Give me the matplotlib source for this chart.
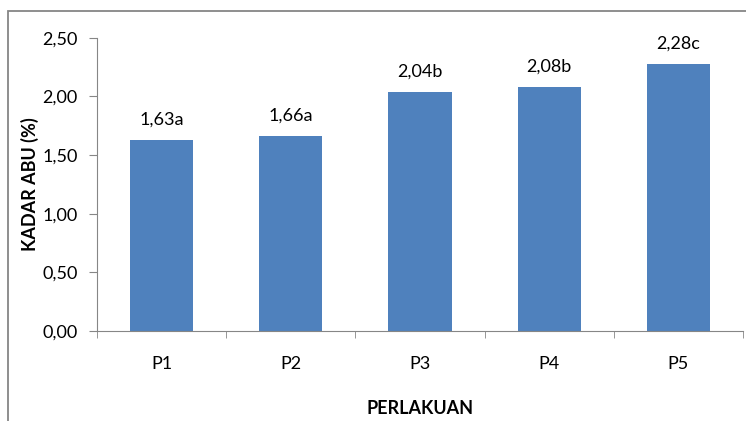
import numpy as np
import matplotlib
matplotlib.use("Agg")
from matplotlib import pyplot as plt
from matplotlib.patches import Rectangle
from matplotlib.ticker import FixedLocator

# data
categories = ['P1', 'P2', 'P3', 'P4', 'P5']
kadar_abu = [1.63, 1.66, 2.04, 2.08, 2.28]
notasi = ['a', 'a', 'b', 'b', 'c']

plt.rcParams['font.family'] = ['Lato', 'DejaVu Sans']
axis_grey = '#868686'
bar_blue = '#4F81BD'

fig = plt.figure(figsize=(7.46, 4.21), dpi=100)
ax = fig.add_axes([0.130, 0.214, 0.866, 0.696])

x = np.arange(len(categories))
ax.bar(x, kadar_abu, width=0.49, color=bar_blue, zorder=2)

for xi, v, n in zip(x, kadar_abu, notasi):
    label = f'{v:.2f}'.replace('.', ',') + n
    ax.annotate(label, (xi, v), xytext=(0, 9), textcoords='offset points',
                ha='center', va='bottom', fontsize=13)

ax.set_xlim(-0.5, len(categories) - 0.5)
ax.set_ylim(0, 2.5)
yticks = np.arange(0, 2.51, 0.5)
ax.set_yticks(yticks)
ax.set_yticklabels([f'{t:.2f}'.replace('.', ',') for t in yticks], fontsize=13)
ax.set_xticks(x)
ax.set_xticklabels(categories, fontsize=13)
ax.xaxis.set_minor_locator(FixedLocator(np.arange(-0.5, len(categories), 1.0)))
ax.tick_params(axis='x', which='major', length=0, pad=18)
ax.tick_params(axis='x', which='minor', length=5, color=axis_grey)
ax.tick_params(axis='y', length=6, color=axis_grey, pad=8)

for s in ['top', 'right']:
    ax.spines[s].set_visible(False)
for s in ['left', 'bottom']:
    ax.spines[s].set_color(axis_grey)

ax.set_ylabel('KADAR ABU (%)', fontsize=13, fontweight='bold', labelpad=2)
ax.set_xlabel('PERLAKUAN', fontsize=13, fontweight='bold', labelpad=20)

# outer chart frame (cut off at the right and bottom edge)
fig.patches.append(Rectangle((8 / 746, -0.1), 1.2, 1 - 11 / 421 + 0.1,
                             transform=fig.transFigure, fill=False,
                             edgecolor=axis_grey, linewidth=1.3))

fig.savefig('out.png', dpi=100)
